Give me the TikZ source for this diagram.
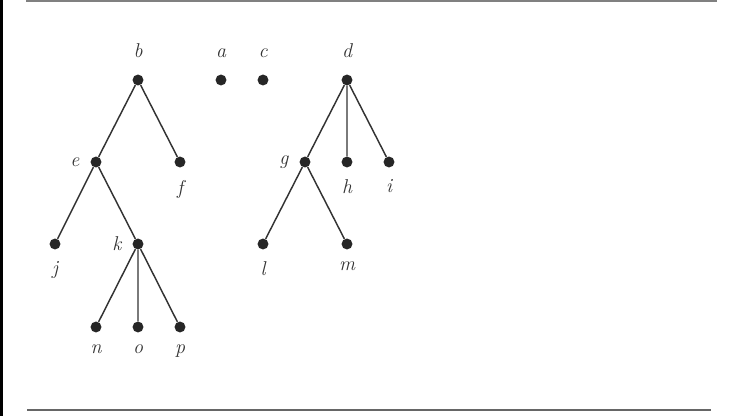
\documentclass[tikz,border=0pt]{standalone}
\begin{document}
\begin{tikzpicture}[x=0.75pt,y=-0.75pt,
  vtx/.style={circle,fill=black!85,inner sep=0pt,minimum size=8.2pt},
  lbl/.style={font=\fontsize{15}{17}\selectfont\itshape,text=black!80,inner sep=0pt},
  edge/.style={draw=black!80,line width=1.1pt},
  ab/.style={label={[lbl,label distance=12pt]90:#1}},
  bl/.style={label={[lbl,label distance=9pt]270:#1}},
  lf/.style={label={[lbl,label distance=8pt]180:#1}}]
\useasboundingbox (0,0) rectangle (735,416);
\fill[black] (0,0) rectangle (3,416);
\draw[black!50,line width=1.5pt] (26,1) -- (717,1);
\draw[black!60,line width=2pt] (27,410) -- (711,410);
\node[vtx,ab=b] (b) at (138,80) {};
\node[vtx,ab=a] (a) at (221,80) {};
\node[vtx,ab=c] (c) at (263,80) {};
\node[vtx,ab=d] (d) at (347,80) {};
\node[vtx,lf=e] (e) at (96,162) {};
\node[vtx,bl=f] (f) at (180,162) {};
\node[vtx,lf=g] (g) at (305,162) {};
\node[vtx,bl=h] (h) at (347,162) {};
\node[vtx,bl=i] (i) at (389,162) {};
\node[vtx,bl=j] (j) at (55,244) {};
\node[vtx,lf=k] (k) at (138,244) {};
\node[vtx,bl=l] (l) at (263,244) {};
\node[vtx,bl=m] (m) at (347,244) {};
\node[vtx,bl=n] (n) at (96,327) {};
\node[vtx,bl=o] (o) at (138,327) {};
\node[vtx,bl=p] (p) at (180,327) {};
\path[edge] (b) -- (e) (b) -- (f) (e) -- (j) (e) -- (k)
  (k) -- (n) (k) -- (o) (k) -- (p)
  (d) -- (g) (d) -- (h) (d) -- (i) (g) -- (l) (g) -- (m);
\end{tikzpicture}
\end{document}
